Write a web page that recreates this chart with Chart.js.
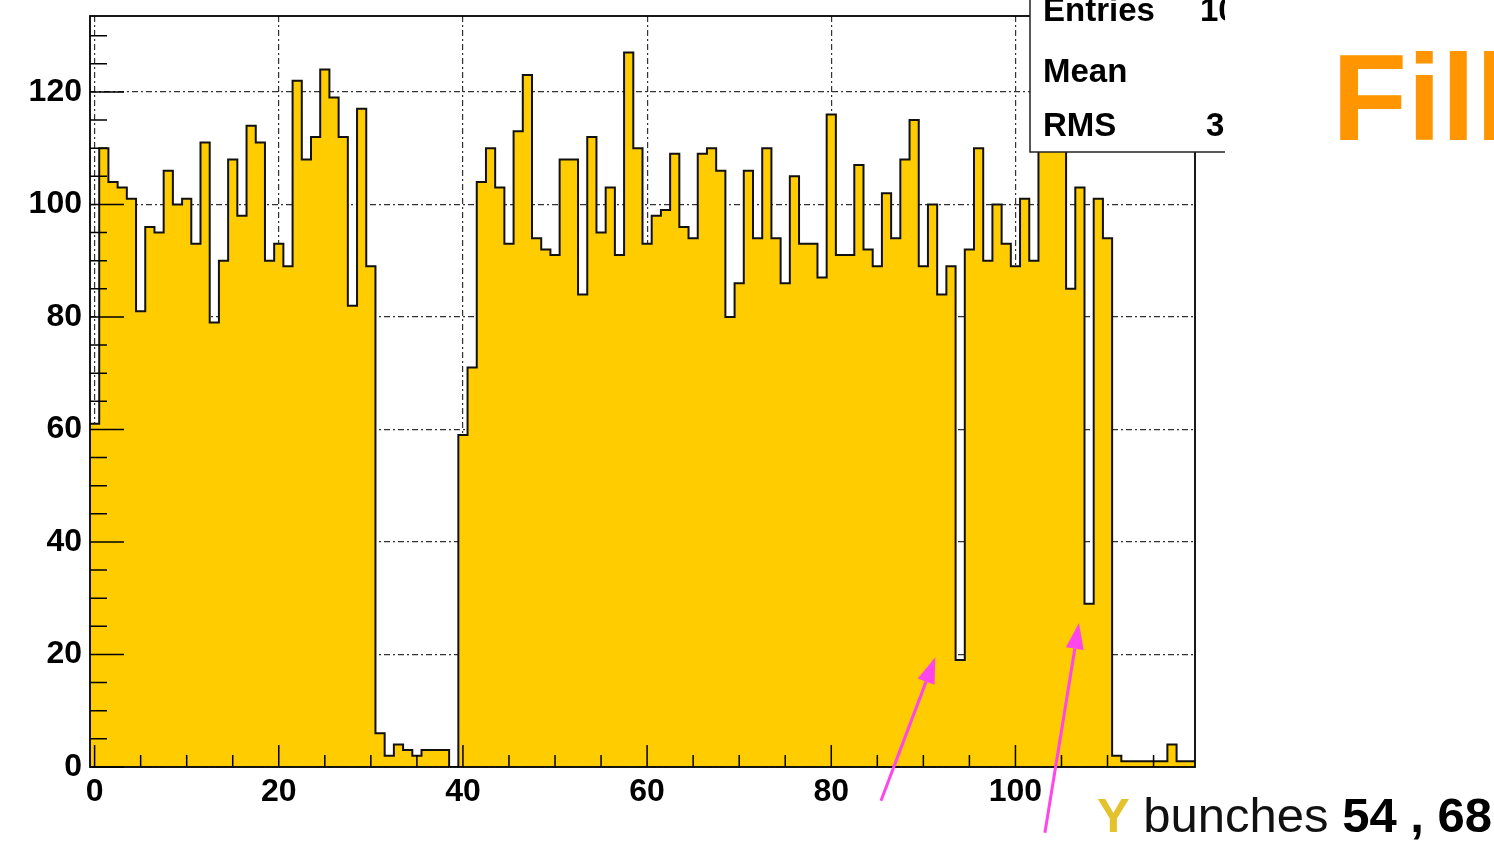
<!DOCTYPE html>
<html>
<head>
<meta charset="utf-8">
<title>Fill - Y bunches</title>
<script src="https://cdn.jsdelivr.net/npm/chart.js@4.4.1/dist/chart.umd.min.js"></script>
<style>
  html, body { margin: 0; padding: 0; background: #fff; }
  canvas { display: block; }
</style>
</head>
<body>
<canvas id="hist" width="1494" height="844"></canvas>
<script>
// contenido de cada bin (bins de ancho 1, centrados en 0..119)
const binCounts = [
  61, 110, 104, 103, 101, 81, 96, 95, 106, 100,
  101, 93, 111, 79, 90, 108, 98, 114, 111, 90,
  93, 89, 122, 108, 112, 124, 119, 112, 82, 117,
  89, 6, 2, 4, 3, 2, 3, 3, 3, 0,
  59, 71, 104, 110, 103, 93, 113, 123, 94, 92,
  91, 108, 108, 84, 112, 95, 103, 91, 127, 110,
  93, 98, 99, 109, 96, 94, 109, 110, 106, 80,
  86, 106, 94, 110, 94, 86, 105, 93, 93, 87,
  116, 91, 91, 107, 92, 89, 102, 94, 108, 115,
  89, 100, 84, 89, 19, 92, 110, 90, 100, 93,
  89, 101, 90, 118, 126, 114, 85, 103, 29, 101,
  94, 2, 1, 1, 1, 1, 1, 4, 1, 1
];
const xTickValues = [0, 20, 40, 60, 80, 100];
const yTickValues = [0, 20, 40, 60, 80, 100, 120];
const statsLabels = ["Entries", "Mean", "RMS"];
const statsValues = ["10", "", "3"];   // lo que se ve antes del recorte
const fillTitle = "Fill";
const noteParts = ["Y", " bunches ", "54 , 68"];
// bunches señalados por las flechas (punta / cola en coordenadas de datos)
const arrows = [
  { tip: [91.3, 19.5], tail: [85.4, -6.0] },
  { tip: [106.9, 25.6], tail: [103.2, -11.7] }
];

// puntos del histograma en los bordes de cada bin
const histPoints = binCounts.map((c, i) => ({ x: i - 0.5, y: c }));
histPoints.push({ x: binCounts.length - 0.5, y: binCounts[binCounts.length - 1] });

const FONT = "'Liberation Sans', Arial, Helvetica, sans-serif";

const rootStyle = {
  id: "rootStyle",
  afterDatasetsDraw(chart) {
    const { ctx, chartArea: a, scales } = chart;
    const xs = scales.x, ys = scales.y;
    ctx.save();
    ctx.strokeStyle = "#000";
    ctx.lineWidth = 1.5;
    // ticks hacia dentro, estilo ROOT
    ctx.beginPath();
    for (let v = 0; v <= 119; v += 5) {
      const px = xs.getPixelForValue(v);
      const len = v % 20 === 0 ? 22 : 12;
      ctx.moveTo(px, a.bottom);
      ctx.lineTo(px, a.bottom - len);
    }
    for (let v = 0; v <= 133; v += 5) {
      const py = ys.getPixelForValue(v);
      const len = v % 20 === 0 ? 34 : 17;
      ctx.moveTo(a.left, py);
      ctx.lineTo(a.left + len, py);
    }
    ctx.stroke();
    ctx.lineWidth = 1.8;
    ctx.strokeRect(a.left, a.top, a.right - a.left, a.bottom - a.top);
    ctx.restore();
  },
  afterDraw(chart) {
    const { ctx, scales } = chart;
    const xs = scales.x, ys = scales.y;
    ctx.save();

    // caja de estadísticas (recortada en el borde de la imagen)
    ctx.save();
    ctx.beginPath();
    ctx.rect(0, 0, 1225, 844);
    ctx.clip();
    ctx.fillStyle = "#fff";
    ctx.fillRect(1030, -4, 200, 156);
    ctx.strokeStyle = "#222";
    ctx.lineWidth = 1.5;
    ctx.beginPath();
    ctx.moveTo(1030, -4);
    ctx.lineTo(1030, 152);
    ctx.lineTo(1230, 152);
    ctx.stroke();
    ctx.fillStyle = "#000";
    ctx.font = "bold 33px " + FONT;
    ctx.textBaseline = "alphabetic";
    ctx.textAlign = "left";
    const rows = [21, 82, 136];
    statsLabels.forEach((t, i) => ctx.fillText(t, 1043, rows[i]));
    ctx.fillText(statsValues[0], 1200, rows[0]);
    ctx.fillText(statsValues[2], 1206, rows[2]);
    ctx.restore();

    // título naranja
    ctx.fillStyle = "#FF9500";
    ctx.font = "bold 123px " + FONT;
    ctx.textAlign = "left";
    ctx.fillText(fillTitle, 1332, 140);

    // nota inferior
    let x = 1097;
    const base = 832;
    ctx.font = "bold 49px " + FONT;
    ctx.fillStyle = "#E3C22B";
    ctx.fillText(noteParts[0], x, base);
    x += ctx.measureText(noteParts[0]).width;
    ctx.font = "49px " + FONT;
    ctx.fillStyle = "#111";
    ctx.fillText(noteParts[1], x, base);
    x += ctx.measureText(noteParts[1]).width;
    ctx.font = "bold 49px " + FONT;
    ctx.fillStyle = "#000";
    ctx.fillText(noteParts[2], x, base);

    // flechas magenta
    ctx.strokeStyle = "#FF45EC";
    ctx.fillStyle = "#FF45EC";
    ctx.lineWidth = 3;
    arrows.forEach(ar => {
      const tx = xs.getPixelForValue(ar.tip[0]), ty = ys.getPixelForValue(ar.tip[1]);
      const sx = xs.getPixelForValue(ar.tail[0]), sy = ys.getPixelForValue(ar.tail[1]);
      const ang = Math.atan2(ty - sy, tx - sx);
      const hl = 26, hw = 9;
      const bx = tx - hl * Math.cos(ang), by = ty - hl * Math.sin(ang);
      ctx.beginPath();
      ctx.moveTo(sx, sy);
      ctx.lineTo(bx, by);
      ctx.stroke();
      ctx.beginPath();
      ctx.moveTo(tx, ty);
      ctx.lineTo(bx + hw * Math.sin(ang), by - hw * Math.cos(ang));
      ctx.lineTo(bx - hw * Math.sin(ang), by + hw * Math.cos(ang));
      ctx.closePath();
      ctx.fill();
    });
    ctx.restore();
  }
};

const gridDash = [6, 3, 2, 3];

new Chart(document.getElementById("hist").getContext("2d"), {
  type: "line",
  data: {
    datasets: [{
      label: "bunches",
      data: histPoints,
      stepped: "before",
      fill: "origin",
      backgroundColor: "#FFCC00",
      borderColor: "#111",
      borderWidth: 2,
      pointRadius: 0,
      tension: 0
    }]
  },
  options: {
    responsive: false,
    animation: false,
    devicePixelRatio: 1,
    layout: { padding: { left: 0, right: 299, top: 16, bottom: 0 } },
    plugins: { legend: { display: false }, tooltip: { enabled: false } },
    scales: {
      x: {
        type: "linear",
        min: -0.5,
        max: 119.5,
        afterBuildTicks: axis => { axis.ticks = xTickValues.map(v => ({ value: v })); },
        afterFit: axis => { axis.height = 77; axis.paddingLeft = 0; axis.paddingRight = 0; },
        grid: { color: "#333", lineWidth: 1.2, drawTicks: false },
        border: { display: false, dash: gridDash },
        ticks: {
          color: "#000",
          padding: 6,
          maxRotation: 0,
          autoSkip: false,
          font: { family: FONT, size: 32, weight: "bold" }
        }
      },
      y: {
        min: 0,
        max: 133.5,
        afterBuildTicks: axis => { axis.ticks = yTickValues.map(v => ({ value: v })); },
        afterFit: axis => { axis.width = 90; axis.paddingTop = 0; axis.paddingBottom = 0; },
        grid: { color: "#333", lineWidth: 1.2, drawTicks: false },
        border: { display: false, dash: gridDash },
        ticks: {
          color: "#000",
          padding: 8,
          autoSkip: false,
          font: { family: FONT, size: 32, weight: "bold" }
        }
      }
    }
  },
  plugins: [rootStyle]
});
</script>
</body>
</html>
